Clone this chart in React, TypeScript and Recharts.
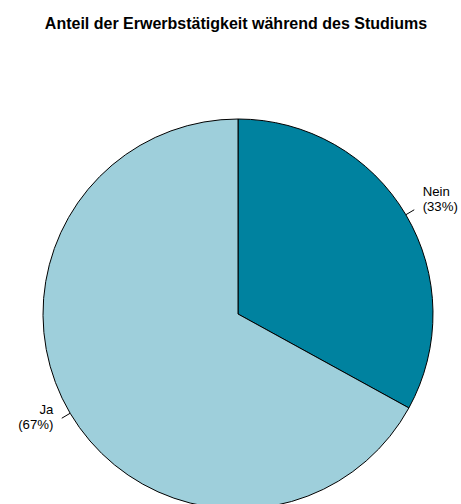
import React from "react";
import { PieChart, Pie, Cell } from "recharts";

const categories = ["Nein", "Ja"];
const shares = [33, 67];
const colors = ["#00829F", "#9ECFDB"];

const data = categories.map((name, i) => ({ name, value: shares[i] }));

const RADIAN = Math.PI / 180;
const FONT = "'Liberation Sans', Arial, sans-serif";

const renderLabel = (props: any) => {
  const { cx, cy, midAngle, outerRadius, name, value } = props;
  const cos = Math.cos(-midAngle * RADIAN);
  const sin = Math.sin(-midAngle * RADIAN);
  const x0 = cx + outerRadius * cos;
  const y0 = cy + outerRadius * sin;
  const x1 = cx + outerRadius * 1.05 * cos;
  const y1 = cy + outerRadius * 1.05 * sin;
  const tx = cx + outerRadius * 1.1 * cos;
  const ty = cy + outerRadius * 1.1 * sin;
  const anchor = cos >= 0 ? "start" : "end";
  return (
    <g>
      <line x1={x0} y1={y0} x2={x1} y2={y1} stroke="#000" strokeWidth={1} />
      <text
        x={tx}
        y={ty}
        textAnchor={anchor}
        fontFamily={FONT}
        fontSize={13.2}
        fill="#000"
      >
        <tspan x={tx} y={ty - 9}>
          {name}
        </tspan>
        <tspan x={tx} y={ty + 6}>
          ({value}%)
        </tspan>
      </text>
    </g>
  );
};

export default function App() {
  return (
    <div
      style={{
        position: "absolute",
        top: 0,
        left: 0,
        width: 461,
        height: 504,
        background: "#fff",
        overflow: "hidden",
      }}
    >
      <div
        style={{
          position: "absolute",
          top: 14,
          left: 0,
          width: 472,
          textAlign: "center",
          fontFamily: FONT,
          fontWeight: "bold",
          fontSize: 16,
          lineHeight: "19px",
          color: "#000",
        }}
      >
        Anteil der Erwerbstätigkeit während des Studiums
      </div>
      <PieChart
        width={461}
        height={504}
        margin={{ top: 0, right: 0, bottom: 0, left: 0 }}
      >
        <Pie
          data={data}
          dataKey="value"
          nameKey="name"
          cx={238}
          cy={314}
          outerRadius={195}
          startAngle={90}
          endAngle={-270}
          stroke="#000"
          strokeWidth={1}
          label={renderLabel}
          labelLine={false}
          isAnimationActive={false}
        >
          {data.map((d, i) => (
            <Cell key={d.name} fill={colors[i]} stroke="#000" />
          ))}
        </Pie>
      </PieChart>
    </div>
  );
}
